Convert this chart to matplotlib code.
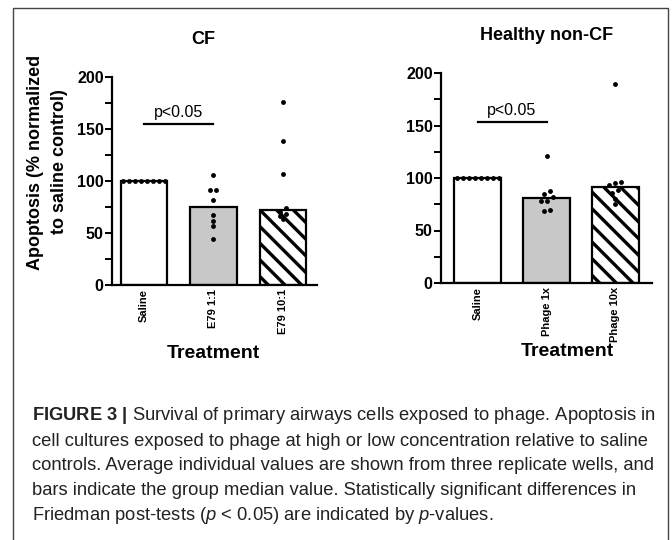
import numpy as np
import matplotlib
matplotlib.use("Agg")
import matplotlib.pyplot as plt
from matplotlib.patches import Rectangle

# ---------------- data ----------------
cf_categories = ["Saline", "E79 1:1", "E79 10:1"]
cf_medians = [100, 75, 72]
cf_saline = [100, 100, 100, 100, 100, 100, 100, 100]
cf_e79_1 = [106, 91, 91, 82, 67, 61.5, 56.5, 44]
cf_e79_10 = [176, 138, 107, 74, 70, 68, 66, 63]

hc_categories = ["Saline", "Phage 1x", "Phage 10x"]
hc_medians = [100, 80.5, 91]
hc_saline = [100, 100, 100, 100, 100, 100, 100, 100]
hc_phage_1 = [121, 87.5, 85, 82, 78, 78, 70, 68.5]
hc_phage_10 = [189.5, 96, 95.5, 93, 89, 86, 80, 75]

cf_sig_label = "p<0.05"
hc_sig_label = "p<0.05"
cf_sig_y = 155
hc_sig_y = 153

caption_lines = [
    r"$\bf{FIGURE\ 3\ |}$ Survival of primary airways cells exposed to phage. Apoptosis in",
    "cell cultures exposed to phage at high or low concentration relative to saline",
    "controls. Average individual values are shown from three replicate wells, and",
    "bars indicate the group median value. Statistically significant differences in",
    r"Friedman post-tests ($p$ < 0.05) are indicated by $p$-values.",
]

# ---------------- style ----------------
plt.rcParams["font.family"] = ["Liberation Sans", "DejaVu Sans"]
plt.rcParams["mathtext.fontset"] = "custom"
plt.rcParams["mathtext.rm"] = "Liberation Sans"
plt.rcParams["mathtext.it"] = "Liberation Sans:italic"
plt.rcParams["mathtext.bf"] = "Liberation Sans:bold"
plt.rcParams["hatch.linewidth"] = 2.4

W, H = 672, 540
fig = plt.figure(figsize=(W / 100, H / 100), dpi=100)

def fx(px):
    return px / W

def fy(py):
    return 1 - py / H

# outer frame
fig.add_artist(Rectangle((fx(13), fy(560)), fx(668) - fx(13), fy(8) - fy(560),
                         transform=fig.transFigure, fill=False,
                         edgecolor="#444444", linewidth=1.0))

fills = ["white", "#c8c8c8", "white"]
hatches = [None, None, "\\\\"]


def row_offsets(values, ppu_x, ppu_y, d_px=6.0, row_px=5.2):
    vals = np.asarray(values, dtype=float)
    order = np.argsort(-vals, kind="stable")
    offs = np.zeros(len(vals))
    rows = []
    for i in order:
        if rows and (vals[rows[-1][0]] - vals[i]) * ppu_y < row_px:
            rows[-1].append(i)
        else:
            rows.append([i])
    for r in rows:
        r_sorted = sorted(r, key=lambda k: vals[k])
        n = len(r_sorted)
        for j, k in enumerate(r_sorted):
            offs[k] = (j - (n - 1) / 2) * d_px / ppu_x
    return offs


def draw_panel(ax_box, xlim, categories, medians, groups, sig_y, sig_label):
    left, right, bottom, top = ax_box
    ax = fig.add_axes([fx(left), fy(bottom), fx(right) - fx(left), fy(top) - fy(bottom)])
    ax.set_xlim(*xlim)
    ax.set_ylim(0, 200)
    x = np.arange(len(categories))
    for i in range(len(categories)):
        ax.bar(x[i], medians[i], width=0.67, color=fills[i], edgecolor="black",
               linewidth=1.6, hatch=hatches[i], zorder=2)
    ppu_x = (right - left) / (xlim[1] - xlim[0])
    ppu_y = (bottom - top) / 200.0
    for i, g in enumerate(groups):
        offs = row_offsets(g, ppu_x, ppu_y)
        ax.plot(x[i] + offs, g, "o", color="black", markersize=3.5,
                markeredgewidth=0, zorder=4, clip_on=False)
    # significance bar
    ax.plot([0, 1], [sig_y, sig_y], color="black", linewidth=1.6, zorder=3)
    ax.text(0.5, sig_y + 4, sig_label, ha="center", va="bottom", fontsize=11.5)
    for s in ["top", "right"]:
        ax.spines[s].set_visible(False)
    ax.spines["left"].set_linewidth(1.6)
    ax.spines["bottom"].set_linewidth(1.6)
    ax.set_yticks([0, 50, 100, 150, 200])
    ax.set_yticks([25, 75, 125, 175], minor=True)
    ax.tick_params(axis="y", which="major", length=5, width=1.4, labelsize=11.5, pad=1)
    ax.tick_params(axis="y", which="minor", length=5, width=1.4)
    for lab in ax.get_yticklabels():
        lab.set_fontweight("bold")
    ax.set_xticks(x)
    ax.set_xticklabels(categories, rotation=90, fontsize=8, fontweight="bold")
    ax.tick_params(axis="x", length=0, pad=3)
    ax.patch.set_alpha(0)
    return ax


ax1 = draw_panel((112, 317, 285, 77), (-0.46, 2.49), cf_categories, cf_medians,
                 [cf_saline, cf_e79_1, cf_e79_10], cf_sig_y, cf_sig_label)
ax2 = draw_panel((441, 652, 283, 73), (-0.53, 2.53), hc_categories, hc_medians,
                 [hc_saline, hc_phage_1, hc_phage_10], hc_sig_y, hc_sig_label)

# titles
fig.text(fx(203), fy(40), "CF", ha="center", va="center", fontsize=13, fontweight="bold")
fig.text(fx(547), fy(35), "Healthy non-CF", ha="center", va="center", fontsize=13,
         fontweight="bold")

# y label
fig.text(fx(47.5), fy(162), "Apoptosis (% normalized\nto saline control)", ha="center",
         va="center", rotation=90, fontsize=13, fontweight="bold", linespacing=1.6)

# x labels
fig.text(fx(213), fy(353), "Treatment", ha="center", va="center", fontsize=14,
         fontweight="bold")
fig.text(fx(567), fy(352), "Treatment", ha="center", va="center", fontsize=14,
         fontweight="bold")

# caption
baselines = [420, 445.5, 470, 495, 520]
for line, b in zip(caption_lines, baselines):
    fig.text(fx(32), fy(b), line, ha="left", va="baseline", fontsize=13.2,
             color="#222222")

fig.savefig("out.png", dpi=100)
